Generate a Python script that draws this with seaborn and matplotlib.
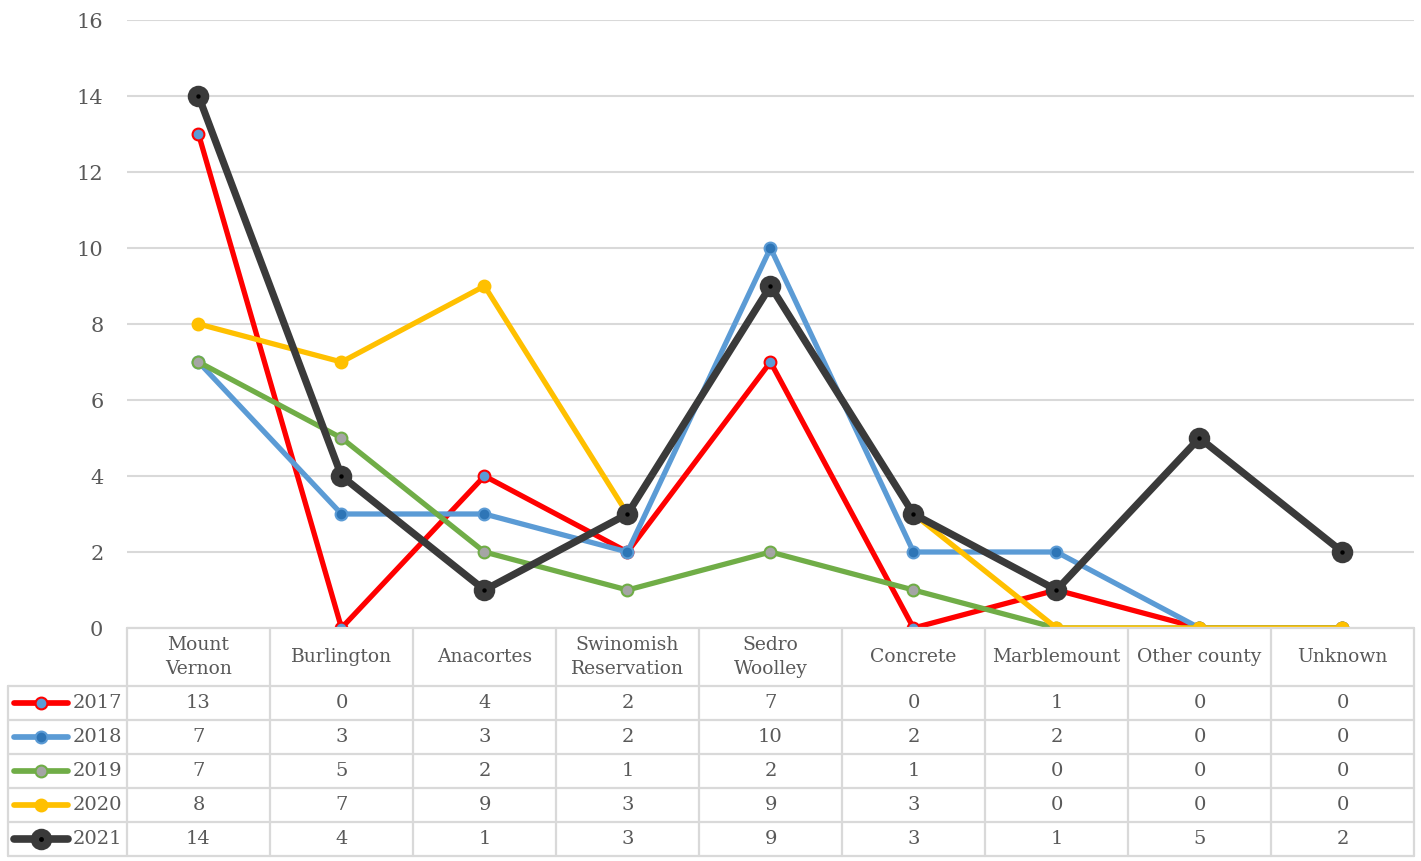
import seaborn as sns
import pandas as pd
import matplotlib.pyplot as plt

categories = ["Mount\nVernon", "Burlington", "Anacortes", "Swinomish\nReservation",
              "Sedro\nWoolley", "Concrete", "Marblemount", "Other county", "Unknown"]
years = ["2017", "2018", "2019", "2020", "2021"]
v2017 = [13, 0, 4, 2, 7, 0, 1, 0, 0]
v2018 = [7, 3, 3, 2, 10, 2, 2, 0, 0]
v2019 = [7, 5, 2, 1, 2, 1, 0, 0, 0]
v2020 = [8, 7, 9, 3, 9, 3, 0, 0, 0]
v2021 = [14, 4, 1, 3, 9, 3, 1, 5, 2]
series = [v2017, v2018, v2019, v2020, v2021]

# line colour, marker face, marker edge, line width, marker size
styles = [
    ("#FF0000", "#5B9BD5", "#FF0000", 3.8, 8.5),
    ("#5B9BD5", "#2E75B6", "#5B9BD5", 3.8, 8.5),
    ("#70AD47", "#A5A5A5", "#70AD47", 3.8, 8.5),
    ("#FFC000", "#FFC000", "#FFC000", 3.8, 8.5),
    ("#3A3A3A", "#3A3A3A", "#3A3A3A", 5.2, 14),
]

sns.set_theme(style="white")
plt.rcParams['font.family'] = ['DejaVu Serif']
txt = "#595959"
grid = "#D9D9D9"

W, H = 1421, 861
fig = plt.figure(figsize=(W / 100, H / 100), dpi=100)
x0, x1, ytop, ybot = 127, 1414, 20, 628
ax = fig.add_axes([x0 / W, 1 - ybot / H, (x1 - x0) / W, (ybot - ytop) / H])

pos = list(range(len(categories)))
for name, vals, st in zip(years, series, styles):
    df = pd.DataFrame({"x": pos, "y": vals})
    sns.lineplot(data=df, x="x", y="y", ax=ax, color=st[0], linewidth=st[3], marker="o",
                 markersize=st[4], markerfacecolor=st[1], markeredgecolor=st[2],
                 markeredgewidth=1.5, zorder=3)
df21 = pd.DataFrame({"x": pos, "y": v2021})
sns.scatterplot(data=df21, x="x", y="y", ax=ax, color="black", s=10, zorder=5, linewidth=0)

ax.set_xlim(-0.5, len(categories) - 0.5)
ax.set_ylim(0, 16)
ax.set_yticks(range(0, 17, 2))
ax.set_xticks([])
ax.set_xlabel("")
ax.set_ylabel("")
ax.tick_params(axis="y", labelsize=15, labelcolor=txt, length=0, pad=17)
ax.grid(axis="y", color=grid, lw=1.5)
ax.set_axisbelow(True)
for s in ax.spines.values():
    s.set_visible(False)

# data table below the plot
tl = 8
hdr, rowh = 58, 34
tab_h = hdr + rowh * len(years)
tax = fig.add_axes([tl / W, 1 - (ybot + tab_h) / H, (x1 - tl) / W, tab_h / H])
left = -0.5 - (x0 - tl) / 143.0
tax.set_xlim(left, len(categories) - 0.5)
tax.set_ylim(tab_h, 0)
tax.axis("off")

lc = dict(color=grid, lw=1.6, clip_on=False)
tax.plot([-0.5, len(categories) - 0.5], [0, 0], **lc)
for i in range(len(years) + 1):
    y = hdr + rowh * i
    tax.plot([left, len(categories) - 0.5], [y, y], **lc)
for j in range(len(categories) + 1):
    tax.plot([j - 0.5, j - 0.5], [0, tab_h], **lc)
tax.plot([left, left], [hdr, tab_h], **lc)

for j, c in enumerate(categories):
    tax.text(j, hdr / 2, c, ha="center", va="center", fontsize=13.5, color=txt,
             linespacing=1.45)
for i, (name, vals, st) in enumerate(zip(years, series, styles)):
    yc = hdr + rowh * (i + 0.5)
    for j, v in enumerate(vals):
        tax.text(j, yc, str(v), ha="center", va="center", fontsize=14, color=txt)
    kx = [left + 0.04, left + 0.42]
    tax.plot(kx, [yc, yc], color=st[0], lw=st[3] + 0.3, solid_capstyle="round")
    tax.plot([sum(kx) / 2], [yc], marker="o", markersize=st[4], color=st[0],
             markerfacecolor=st[1], markeredgecolor=st[2], markeredgewidth=1.5)
    if name == "2021":
        tax.plot([sum(kx) / 2], [yc], marker="o", markersize=2.5, color="black")
    tax.text(left + 0.45, yc, name, ha="left", va="center", fontsize=14, color=txt)

plt.savefig("out.png", dpi=100)
